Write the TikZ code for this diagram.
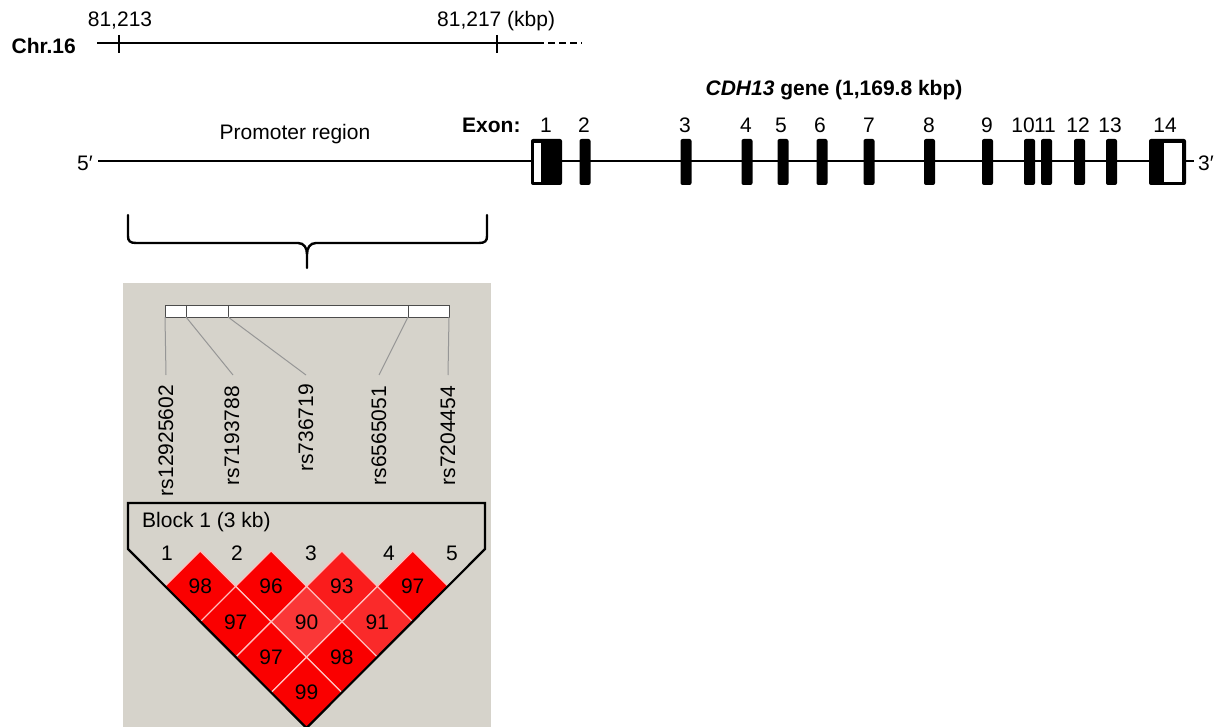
\documentclass[tikz,border=0pt]{standalone}
\usepackage{fontspec}
\setmainfont{Liberation Sans}
\definecolor{panel}{RGB}{214,211,203}
\definecolor{snpline}{RGB}{150,150,150}
\definecolor{ldA}{RGB}{250,0,0}
\definecolor{ldB}{RGB}{250,28,28}
\definecolor{ldC}{RGB}{250,42,42}
\definecolor{ldD}{RGB}{250,55,55}
\definecolor{sep}{RGB}{255,190,190}
\tikzset{
  lbl/.style={inner sep=0pt, font=\fontsize{21}{25}\selectfont},
  blbl/.style={inner sep=0pt, font=\fontsize{21}{25}\selectfont\bfseries},
  exon/.style={fill=black, rounded corners=2pt, minimum width=11pt, minimum height=46pt, inner sep=0pt},
  whitebox/.style={fill=white, minimum width=#1, minimum height=39pt, inner sep=0pt},
  axisline/.style={line width=2.6pt},
  tick/.style={line width=2.6pt},
  bracepath/.style={line width=2.4pt, line cap=round},
  snpconn/.style={draw=snpline, line width=1pt},
  blockedge/.style={line width=2.2pt, line join=miter},
  ldcell/.style={draw=sep, line width=1.2pt}
}
\begin{document}
\begin{tikzpicture}[x=1pt,y=-1pt]
\useasboundingbox (0,0) rectangle (1215,727);

% ---------------- chromosome scale ----------------
\node[blbl, anchor=east] (chr) at (76,46) {Chr.16};
\coordinate (c0) at (97,43);
\coordinate (c1) at (537,43);
\coordinate (c2) at (582,43);
\draw[axisline] (c0) -- (c1);
\draw[axisline, dash pattern=on 7pt off 4pt] (c1) -- (c2);
\coordinate (k1t) at (119,35); \coordinate (k1b) at (119,53);
\coordinate (k2t) at (497,35); \coordinate (k2b) at (497,53);
\draw[tick] (k1t) -- (k1b);
\draw[tick] (k2t) -- (k2b);
\node[lbl] (p1) at (120,21) {81,213};
\node[lbl, anchor=west] (p2) at (437,21) {81,217 (kbp)};

% ---------------- gene ----------------
\node[inner sep=0pt, font=\fontsize{21}{25}\selectfont\bfseries] (title) at (834,90) {\textit{CDH13} gene (1,169.8 kbp)};
\node[lbl] (prom) at (295,134) {Promoter region};
\node[blbl, anchor=west] (exlab) at (462,125) {Exon:};
\node[lbl] (five) at (85,163) {5′};
\node[lbl, anchor=west] (three) at (1198,163) {3′};
\coordinate (g5) at (98,161);
\coordinate (g3) at (1194,161);
\draw[axisline] (g5) -- (g3);

\node[exon, minimum width=31pt] (e1) at (546.5,162) {};
\node[whitebox=7pt] (e1w) at (537.5,162.5) {};
\foreach \n/\x in {2/585,3/686,4/747,5/783,6/822,7/869,8/929.5,9/987.5,10/1029.5,11/1046.5,12/1079.5,13/1111.5}{
  \node[exon] (e\n) at (\x,162) {};
}
\node[exon, minimum width=37pt] (e14) at (1167.5,162) {};
\node[whitebox=18pt] (e14w) at (1173,162.5) {};

\foreach \n/\x in {1/546,2/584,3/685,4/746,5/781,6/820,7/869,8/929,9/987,10/1023,11/1045,12/1078,13/1110,14/1165}{
  \node[lbl] (n\n) at (\x,125) {\n};
}

% ---------------- brace ----------------
\draw[bracepath] (128,215) -- (128,236) .. controls (128,241) and (130,243) .. (136,243)
  -- (298,243) .. controls (304,243) and (307,248) .. (307,254) -- (307,268);
\draw[bracepath] (487,215) -- (487,236) .. controls (487,241) and (485,243) .. (479,243)
  -- (316,243) .. controls (310,243) and (307,248) .. (307,254);

% ---------------- LD panel ----------------
\fill[panel] (123,283) rectangle (491,730);

\draw[fill=white, draw=black!70, line width=0.9pt] (165,305) rectangle (449,317);
\foreach \k/\x in {1/165,2/186,3/228,4/408,5/449}{
  \coordinate (t\k) at (\x,317);
  \draw[black!70, line width=1pt] (\x,305) -- (\x,317);
}
\foreach \k/\x in {1/166,2/233,3/306,4/379,5/448}{
  \coordinate (l\k) at (\x,375);
}
\foreach \k in {1,...,5}{ \draw[snpconn] (t\k) -- (l\k); }

\node[lbl, rotate=90, anchor=east] (r1) at (166,385) {rs12925602};
\node[lbl, rotate=90, anchor=east] (r2) at (232,386) {rs7193788};
\node[lbl, rotate=90, anchor=east] (r3) at (306,384) {rs736719};
\node[lbl, rotate=90, anchor=east] (r4) at (379,386) {rs6565051};
\node[lbl, rotate=90, anchor=east] (r5) at (448,386) {rs7204454};

% diamonds
\def\dd{35.4}
\foreach \i/\j/\v/\c in {1/2/98/ldA,2/3/96/ldA,3/4/93/ldB,4/5/97/ldA,
                         1/3/97/ldA,2/4/90/ldD,3/5/91/ldC,
                         1/4/97/ldA,2/5/98/ldA,
                         1/5/99/ldA}{
  \pgfmathsetmacro{\cx}{306.5+((\i+\j)/2-3)*70.8}
  \pgfmathsetmacro{\cy}{692.6-(4-(\j-\i))*\dd}
  \filldraw[ldcell, fill=\c] (\cx,\cy-\dd) -- (\cx+\dd,\cy) -- (\cx,\cy+\dd) -- (\cx-\dd,\cy) -- cycle;
  \node[lbl] (d\i\j) at (\cx,\cy) {\v};
}

\draw[blockedge] (128,503) -- (485,503) -- (485,549) -- (306.5,728) -- (128,549) -- cycle;
\node[lbl, anchor=west] (blk) at (142,522) {Block 1 (3 kb)};
\foreach \k/\x in {1/167,2/237,3/311,4/389,5/452}{
  \node[lbl] (b\k) at (\x,553) {\k};
}
\end{tikzpicture}
\end{document}
